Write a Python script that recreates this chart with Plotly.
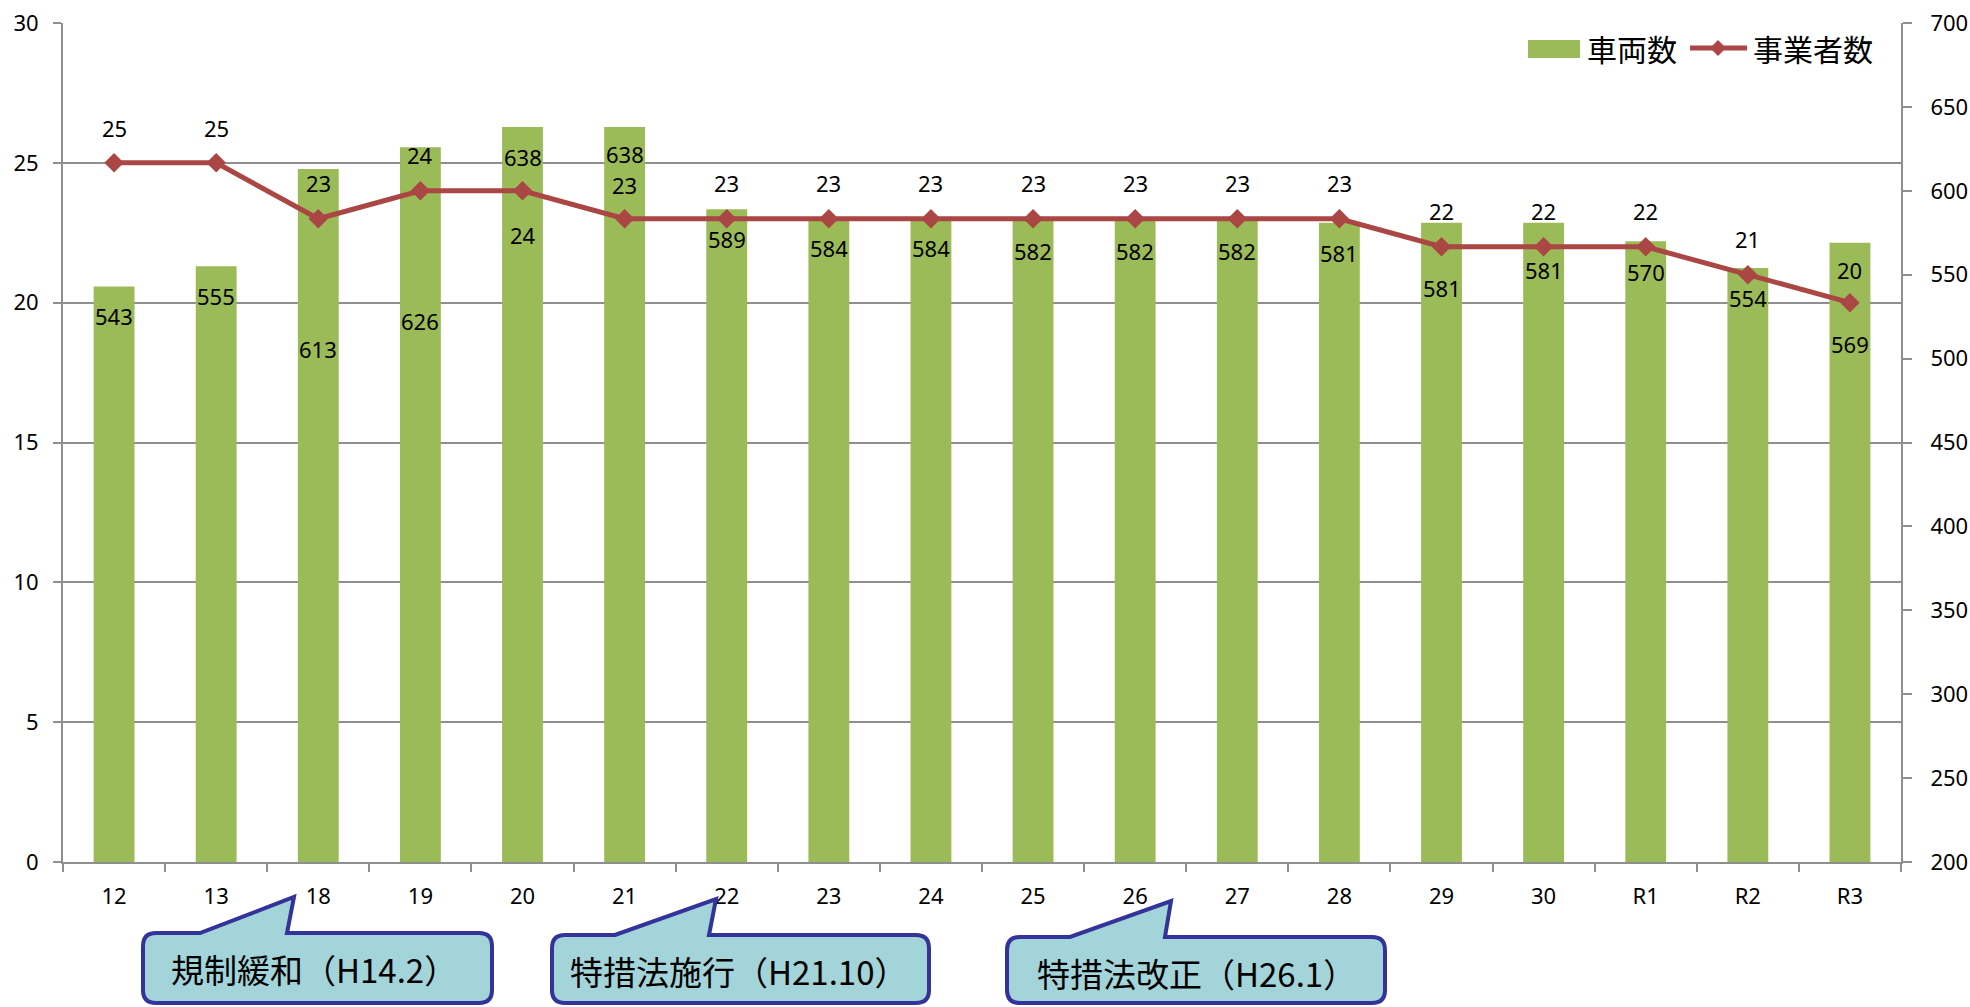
import plotly.graph_objects as go

# ---- data ----
categories = ["12", "13", "18", "19", "20", "21", "22", "23", "24", "25",
              "26", "27", "28", "29", "30", "R1", "R2", "R3"]
vehicles = [543, 555, 613, 626, 638, 638, 589, 584, 584, 582,
            582, 582, 581, 581, 581, 570, 554, 569]
operators = [25, 25, 23, 24, 24, 23, 23, 23, 23, 23,
             23, 23, 23, 22, 22, 22, 21, 20]
series_names = ["車両数", "事業者数"]
callout_texts = ["規制緩和（H14.2）", "特措法施行（H21.10）", "特措法改正（H26.1）"]

# label placement (pixel offsets, styling only)
bar_label_drop = [30, 30, 180, 174, 30, 27, 30, 30, 30, 30,
                  30, 30, 30, 65, 47, 31, 30, 101]
line_label_shift = [35, 35, 36, 36, -44, 34, 36, 36, 36, 36,
                    36, 36, 36, 36, 36, 36, 36, 33]

BAR_COLOR = "#9BBB59"
LINE_COLOR = "#AA4643"
AXIS_COLOR = "#8F8F8F"
FONT = "Noto Sans, Noto Sans CJK JP, sans-serif"
CJK = "Noto Sans CJK JP, sans-serif"

W, H = 1970, 1007
L, R, T, B = 63, 1901, 23, 862


def px(x):
    return (x - L) / (R - L)


def py(y):
    return (B - y) / (B - T)


fig = go.Figure()
fig.add_trace(go.Bar(
    x=categories, y=vehicles, name=series_names[0], yaxis="y",
    marker=dict(color=BAR_COLOR, line=dict(width=0)),
    hoverinfo="skip",
))
fig.add_trace(go.Scatter(
    x=categories, y=operators, name=series_names[1], yaxis="y2",
    mode="lines+markers",
    line=dict(color=LINE_COLOR, width=5),
    marker=dict(symbol="diamond", size=15, color=LINE_COLOR),
    hoverinfo="skip",
))

annotations = []
for i, (v, d) in enumerate(zip(vehicles, bar_label_drop)):
    annotations.append(dict(x=i, y=v, xref="x", yref="y", text=str(v),
                            showarrow=False, yshift=-d,
                            font=dict(size=22, color="black", family=FONT)))
for i, (v, s) in enumerate(zip(operators, line_label_shift)):
    annotations.append(dict(x=i, y=v, xref="x", yref="y2", text=str(v),
                            showarrow=False, yshift=s,
                            font=dict(size=22, color="black", family=FONT)))

# ---- custom legend ----
shapes = []
shapes.append(dict(type="rect", xref="paper", yref="paper",
                   x0=px(1528), x1=px(1580), y0=py(58), y1=py(40),
                   fillcolor=BAR_COLOR, line=dict(width=0)))
annotations.append(dict(x=px(1585), y=py(48), xref="paper", yref="paper",
                        xanchor="left", yanchor="middle", showarrow=False,
                        text=series_names[0],
                        font=dict(size=30, color="black", family=CJK)))
shapes.append(dict(type="line", xref="paper", yref="paper",
                   x0=px(1690), x1=px(1747), y0=py(48), y1=py(48),
                   line=dict(color=LINE_COLOR, width=5)))
dx, dy = 8, 8
cx, cy = 1718, 48
shapes.append(dict(type="path", xref="paper", yref="paper",
                   path=f"M{px(cx-dx)},{py(cy)} L{px(cx)},{py(cy-dy)} L{px(cx+dx)},{py(cy)} L{px(cx)},{py(cy+dy)} Z",
                   fillcolor=LINE_COLOR, line=dict(width=0)))
annotations.append(dict(x=px(1751), y=py(48), xref="paper", yref="paper",
                        xanchor="left", yanchor="middle", showarrow=False,
                        text=series_names[1],
                        font=dict(size=30, color="black", family=CJK)))


# ---- callouts ----
def callout(left, top, right, bottom, bl, br, tx, ty, r=13):
    pts = [
        ("M", (left + r, top)), ("L", (bl, top)), ("L", (tx, ty)), ("L", (br, top)),
        ("L", (right - r, top)), ("Q", (right, top), (right, top + r)),
        ("L", (right, bottom - r)), ("Q", (right, bottom), (right - r, bottom)),
        ("L", (left + r, bottom)), ("Q", (left, bottom), (left, bottom - r)),
        ("L", (left, top + r)), ("Q", (left, top), (left + r, top)),
    ]
    s = ""
    for p in pts:
        cmd = p[0]
        coords = " ".join(f"{px(a):.5f},{py(b):.5f}" for a, b in p[1:])
        s += f"{cmd}{coords} "
    return s + "Z"


boxes = [
    (143, 933, 492, 1003, 200, 287, 294, 897),
    (552, 935, 929, 1003, 615, 709, 716, 899),
    (1007, 937, 1385, 1003, 1070, 1165, 1171, 901),
]
text_centers = [(314, 969), (738, 971), (1196, 973)]
for b, t, (tcx, tcy) in zip(boxes, callout_texts, text_centers):
    shapes.append(dict(type="path", xref="paper", yref="paper",
                       path=callout(*b), fillcolor="#A2D4D9",
                       line=dict(color="#333399", width=4), layer="above"))
    annotations.append(dict(x=px(tcx), y=py(tcy), xref="paper", yref="paper",
                            xanchor="center", yanchor="middle", showarrow=False,
                            text=t, font=dict(size=33, color="black", family=CJK)))

fig.update_layout(
    template="none",
    width=W, height=H, autosize=False,
    margin=dict(l=L, r=W - R, t=T, b=H - B, pad=0, autoexpand=False),
    paper_bgcolor="white", plot_bgcolor="white",
    showlegend=False,
    bargap=0.6,
    font=dict(family=FONT, size=22, color="black"),
    xaxis=dict(type="category", categoryorder="array", categoryarray=categories,
               range=[-0.5, len(categories) - 0.5], autorange=False,
               automargin=False,
               showline=True, linecolor=AXIS_COLOR, linewidth=2,
               ticks="outside", tickson="boundaries", ticklen=8, tickwidth=2,
               tickcolor=AXIS_COLOR, showgrid=False, zeroline=False,
               tickfont=dict(size=22, color="black", family=FONT),
               ticklabelstandoff=14),
    yaxis=dict(side="right", range=[200, 700], dtick=50, tick0=200,
               automargin=False,
               showgrid=False, zeroline=False,
               showline=True, linecolor=AXIS_COLOR, linewidth=2,
               ticks="outside", ticklen=9, tickwidth=2, tickcolor=AXIS_COLOR,
               tickfont=dict(size=22, color="black", family=FONT),
               ticklabelstandoff=14),
    yaxis2=dict(side="left", overlaying="y", range=[0, 30], dtick=5, tick0=0,
                automargin=False,
                showgrid=True, gridcolor=AXIS_COLOR, gridwidth=2,
                zeroline=False,
                showline=True, linecolor=AXIS_COLOR, linewidth=2,
                ticks="outside", ticklen=8, tickwidth=2, tickcolor=AXIS_COLOR,
                tickfont=dict(size=22, color="black", family=FONT),
                ticklabelstandoff=10),
    shapes=shapes,
    annotations=annotations,
)

fig.write_html("out.html",
               config={"displayModeBar": False, "staticPlot": True},
               post_script="document.body.style.margin='0';document.body.style.overflow='hidden';")
